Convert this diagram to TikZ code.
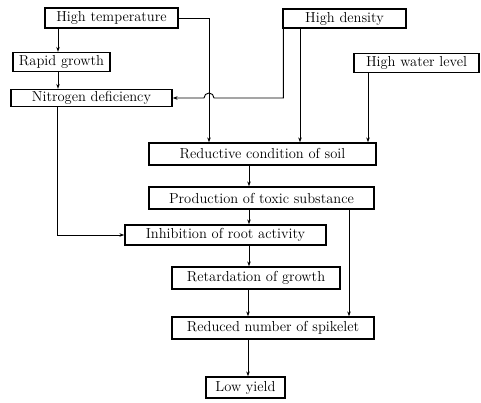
\documentclass[tikz,border=0pt]{standalone}
\usepackage{fontspec}
\usepackage{tikz}
\usetikzlibrary{arrows.meta}
\usetikzlibrary{calc}

\begin{document}
\begin{tikzpicture}[x=1pt,y=-1pt,
  box/.style={draw,line width=1.3pt,inner sep=0pt,minimum height=20pt,
    font=\fontsize{14.5}{16}\selectfont\addfontfeatures{LetterSpace=5}},
  conn/.style={line width=0.9pt},
  arr/.style={conn,-{Stealth[length=5pt,width=3.5pt]}},
]
  \useasboundingbox (0,0) rectangle (481,402);

  \node[box,minimum width=133pt] (HT) at (111.5,18) {High temperature};
  \node[box,minimum width=97pt,minimum height=19pt] (RG) at (61.5,62) {Rapid growth};
  \node[box,minimum width=161pt,minimum height=17pt] (ND) at (91.5,98) {Nitrogen deficiency};
  \node[box,minimum width=123pt,minimum height=19pt] (HD) at (344.5,18.5) {High density};
  \node[box,minimum width=125pt,minimum height=19pt] (HW) at (416.5,63) {High water level};
  \node[box,minimum width=227pt,minimum height=22pt] (RC) at (262.5,154) {Reductive condition of soil};
  \node[box,minimum width=225pt,minimum height=22pt] (PT) at (261.5,198) {Production of toxic substance};
  \node[box,minimum width=201pt] (IR) at (225.5,235) {Inhibition of root activity};
  \node[box,minimum width=168pt,minimum height=22pt] (RT) at (256,278) {Retardation of growth};
  \node[box,minimum width=202pt,minimum height=22pt] (RN) at (273,328) {Reduced number of spikelet};
  \node[box,minimum width=79pt,minimum height=21pt] (LY) at (245.5,387.5) {Low yield};

  \coordinate (a) at (58,0);
  \coordinate (b) at (209,0);
  \coordinate (c) at (249,0);
  \coordinate (d) at (349,0);

  \draw[arr] (HT.south -| a) -- (RG.north -| a);
  \draw[arr] (RG.south -| a) -- (ND.north -| a);
  \draw[arr] (HT.east) -| (RC.north -| b);
  \draw[arr] ([xshift=1pt]HD.south west) |- ($(ND.east -| b)+(5,0)$)
    arc[start angle=0,end angle=180,radius=5pt] -- (ND.east);
  \draw[arr] (HD.south -| 300,0) -- (RC.north -| 300,0);
  \draw[arr] (HW.south -| 368,0) -- (RC.north -| 368,0);
  \draw[arr] (RC.south -| c) -- (PT.north -| c);
  \draw[arr] (PT.south -| c) -- (IR.north -| c);
  \draw[arr] (PT.south -| d) -- (RN.north -| d);
  \draw[arr] (ND.south -| 57,0) |- (IR.west);
  \draw[arr] (IR.south -| c) -- (RT.north -| c);
  \draw[arr] (RT.south -| 248,0) -- (RN.north -| 248,0);
  \draw[arr] (RN.south -| 248,0) -- (LY.north -| 248,0);
\end{tikzpicture}
\end{document}
